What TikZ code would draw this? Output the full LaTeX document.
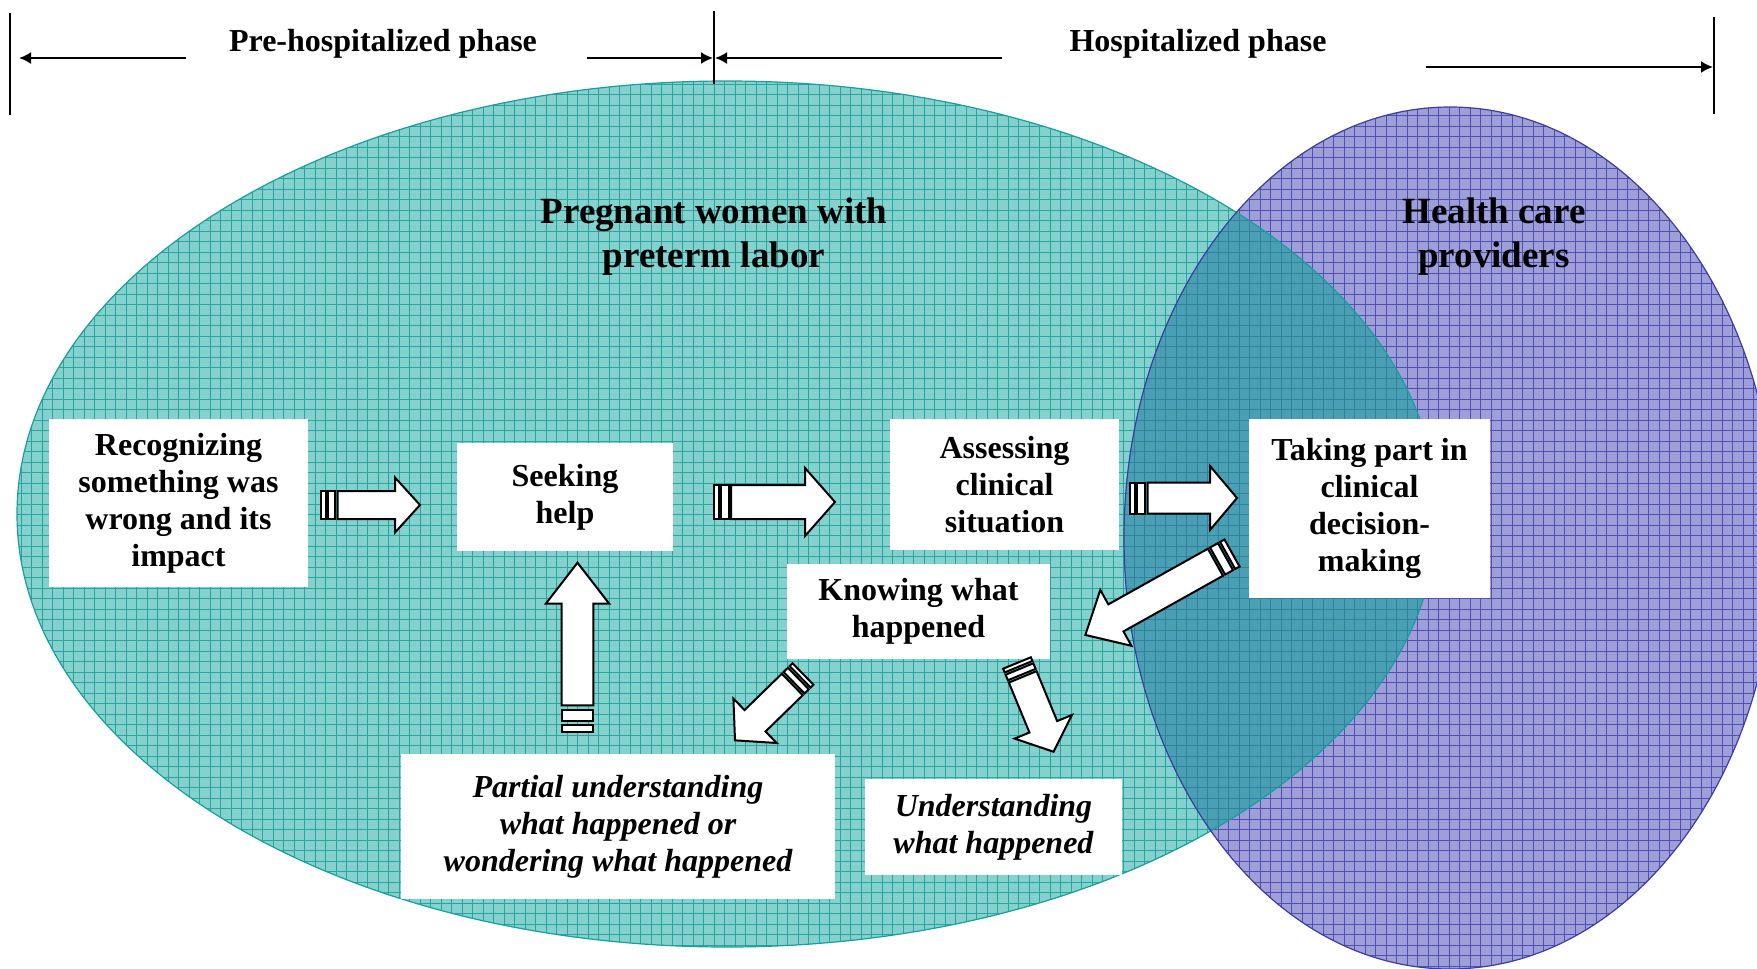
\documentclass[tikz,border=0pt]{standalone}
\usepackage{fontspec}
\setmainfont{Liberation Serif}
\usetikzlibrary{arrows.meta}
\definecolor{tealfill}{HTML}{84D1CD}
\definecolor{tealgrid}{HTML}{26A5A1}
\definecolor{tealedge}{HTML}{1A9E9A}
\definecolor{purpfill}{HTML}{9E9ED8}
\definecolor{purpgrid}{HTML}{5050B2}
\definecolor{purpedge}{HTML}{3D3DA0}
\definecolor{ovfill}{HTML}{4A9FB3}
\definecolor{ovgrid}{HTML}{2F82A0}
\def\tealE{(727,514) ellipse [x radius=355pt, y radius=216.5pt]}
\def\purpE{(1450,538) ellipse [x radius=163pt, y radius=215.5pt]}
\def\ArrGap{2.5}
% #1 x, #2 y (tail), #3 angle, #4 length, #5 stripe1, #6 stripe2, #7 body half, #8 head half, #9 head length
\newcommand\BlkArrow[9]{%
  \begin{scope}[shift={(#1,#2)}, rotate=#3]
    \draw[blk] (0,-#7) rectangle (#5,#7);
    \draw[blk] ({#5+\ArrGap},-#7) rectangle ({#5+\ArrGap+#6},#7);
    \draw[blk] ({#5+#6+2*\ArrGap},-#7) -- ({#4-#9},-#7) -- ({#4-#9},-#8) -- (#4,0)
      -- ({#4-#9},#8) -- ({#4-#9},#7) -- ({#5+#6+2*\ArrGap},#7) -- cycle;
  \end{scope}}
\begin{document}
\begin{tikzpicture}[x=0.5pt,y=-0.5pt,
  box/.style={fill=white, inner sep=0pt, align=center, font=\fontsize{16}{18.5}\selectfont\bfseries},
  ibox/.style={box, font=\fontsize{16}{18.5}\selectfont\bfseries\itshape},
  title/.style={inner sep=0pt, align=center, font=\fontsize{18.5}{22.4}\selectfont\bfseries},
  phase/.style={inner sep=0pt, font=\fontsize{16}{19}\selectfont\bfseries},
  dimarrow/.style={line width=1pt, -{Latex[length=6pt,width=6pt]}},
  vline/.style={line width=0.8pt},
  blk/.style={draw=black, fill=white, line width=1pt, line join=miter}]
\useasboundingbox (0,0) rectangle (1757,969);
\begin{scope}
  \clip (0,0) rectangle (1757,969);
  % teal ellipse
  \begin{scope}
    \clip \tealE;
    \fill[tealfill] (0,0) rectangle (1757,969);
    \draw[tealgrid, line width=0.4pt, step=5.25pt] (0,969) grid (1757,0);
  \end{scope}
  % purple ellipse
  \begin{scope}
    \clip \purpE;
    \fill[purpfill] (0,0) rectangle (1757,969);
    \draw[purpgrid, line width=0.4pt, step=5.25pt] (0,969) grid (1757,0);
  \end{scope}
  % overlap
  \begin{scope}
    \clip \tealE;
    \clip \purpE;
    \fill[ovfill] (0,0) rectangle (1757,969);
    \draw[ovgrid, line width=0.4pt, step=5.25pt] (0,969) grid (1757,0);
  \end{scope}
  \draw[tealedge, line width=0.6pt] \tealE;
  \draw[purpedge, line width=0.6pt] \purpE;
\end{scope}

% phase markers
\coordinate (lvT) at (10,13);  \coordinate (lvB) at (10,115);
\coordinate (mvT) at (714,11); \coordinate (mvB) at (714,84);
\coordinate (rvT) at (1714,17); \coordinate (rvB) at (1714,114);
\draw[vline] (lvT) -- (lvB);
\draw[vline] (mvT) -- (mvB);
\draw[vline] (rvT) -- (rvB);
\node[phase] (pre) at (383,44) {Pre-hospitalized phase};
\node[phase] (hos) at (1198,44) {Hospitalized phase};
\coordinate (p1s) at (186,58);  \coordinate (p1e) at (19,58);
\coordinate (p2s) at (587,58);  \coordinate (p2e) at (713,58);
\coordinate (h1s) at (1002,58); \coordinate (h1e) at (715,58);
\coordinate (h2s) at (1426,67); \coordinate (h2e) at (1713,67);
\draw[dimarrow] (p1s) -- (p1e);
\draw[dimarrow] (p2s) -- (p2e);
\draw[dimarrow] (h1s) -- (h1e);
\draw[dimarrow] (h2s) -- (h2e);

% titles
\node[title] (tW) at (714,236.5) {Pregnant women with\\preterm labor};
\node[title] (tH) at (1494,236.5) {Health care\\providers};

% boxes
\node[box, minimum width=129.5pt, minimum height=84pt] (rec) at (178.5,503)
  {Recognizing\\something was\\wrong and its\\impact};
\node[box, minimum width=108pt, minimum height=54pt] (seek) at (565,497)
  {Seeking\\help};
\node[box, minimum width=114.5pt, minimum height=65.5pt] (ass) at (1004.5,484.5)
  {Assessing\\clinical\\situation};
\node[box, minimum width=120.5pt, minimum height=89.5pt] (take) at (1369.5,508.5)
  {Taking part in\\clinical\\decision-\\making};
\node[box, minimum width=131.5pt, minimum height=47.5pt] (know) at (918.5,611.5)
  {Knowing what\\happened};
\node[ibox, minimum width=217pt, minimum height=72.5pt] (part) at (618,826.5)
  {Partial understanding\\what happened or\\wondering what happened};
\node[ibox, minimum width=128.5pt, minimum height=48pt] (und) at (993.5,827)
  {Understanding\\what happened};

% block arrows
\BlkArrow{321}{505}{0}{99}{4.5}{7}{14}{27.5}{25}
\BlkArrow{714}{502}{0}{121}{4.5}{7.5}{17}{34}{30}
\BlkArrow{1130}{498}{0}{107}{4.7}{8}{15.5}{32}{27}
\def\ArrGap{4.5}
\BlkArrow{577.5}{731.7}{90}{169}{6.7}{10.7}{15.8}{31.7}{41}
\def\ArrGap{2.5}
\BlkArrow{1232}{553}{209.2}{168}{5}{9}{15.5}{32}{35}
\BlkArrow{803}{674}{224.3}{95}{4}{6}{15}{31}{28}
\BlkArrow{1017}{663}{-67.6}{96}{4}{6}{15}{31}{27}
\end{tikzpicture}
\end{document}
